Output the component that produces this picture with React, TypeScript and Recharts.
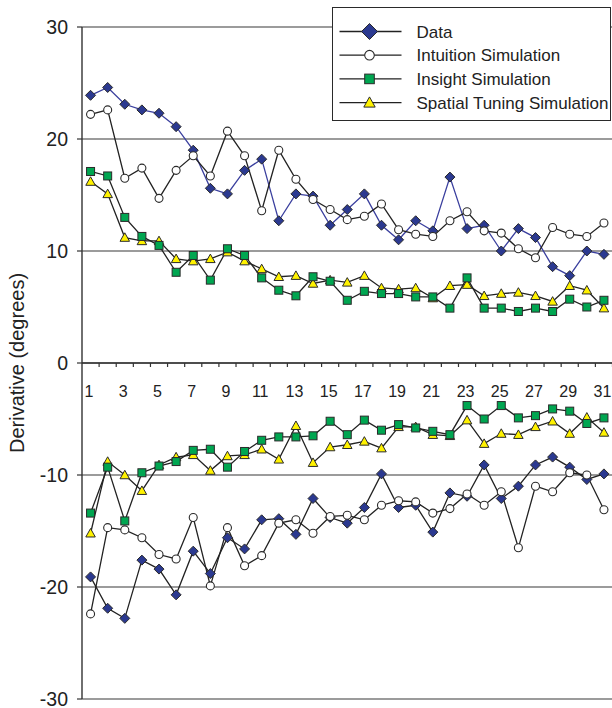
import { CartesianGrid, Legend, Line, LineChart, ReferenceLine, XAxis, YAxis } from "recharts";

// Derivative per session: each model has a positive (upper) and a negative (lower) branch.

const sessions = [1, 2, 3, 4, 5, 6, 7, 8, 9, 10, 11, 12, 13, 14, 15, 16, 17, 18, 19, 20, 21, 22, 23, 24, 25, 26, 27, 28, 29, 30, 31];
const xTickLabels = [1, 3, 5, 7, 9, 11, 13, 15, 17, 19, 21, 23, 25, 27, 29, 31];
const yTicks = [-30, -20, -10, 0, 10, 20, 30];
const seriesNames = ["Data", "Intuition Simulation", "Insight Simulation", "Spatial Tuning Simulation"];

const dataTop = [23.9, 24.6, 23.1, 22.6, 22.3, 21.1, 19.0, 15.6, 15.1, 17.2, 18.2, 12.7, 15.1, 14.9, 12.3, 13.7, 15.1, 12.3, 11.0, 12.7, 11.8, 16.6, 12.0, 12.3, 10.0, 12.0, 11.2, 8.6, 7.8, 10.0, 9.7];
const dataBottom = [-19.1, -21.9, -22.8, -17.6, -18.4, -20.7, -16.8, -18.8, -15.6, -16.6, -14.0, -13.9, -15.3, -12.1, -13.8, -14.3, -12.9, -9.9, -12.9, -12.7, -15.1, -11.6, -11.9, -9.1, -12.1, -11.0, -9.1, -8.4, -9.3, -10.4, -9.9];
const intuitionTop = [22.2, 22.6, 16.5, 17.4, 14.7, 17.2, 18.5, 16.7, 20.7, 18.5, 13.6, 19.0, 16.4, 14.6, 13.7, 12.8, 13.1, 14.2, 11.9, 11.5, 11.3, 12.7, 13.5, 11.8, 11.6, 10.2, 9.4, 12.1, 11.5, 11.3, 12.5];
const intuitionBottom = [-22.4, -14.7, -14.9, -15.6, -17.1, -17.5, -13.8, -19.9, -14.7, -18.1, -17.2, -14.3, -14.0, -15.2, -13.7, -13.6, -14.0, -12.7, -12.3, -12.4, -13.4, -13.0, -11.7, -12.7, -11.5, -16.5, -11.0, -11.5, -9.8, -10.0, -13.1];
const insightTop = [17.1, 16.7, 13.0, 11.3, 10.5, 8.1, 9.6, 7.4, 10.2, 9.6, 7.6, 6.5, 6.0, 7.7, 7.3, 5.6, 6.4, 6.2, 6.2, 5.9, 5.9, 4.9, 7.6, 4.9, 4.9, 4.6, 4.9, 4.6, 5.7, 5.0, 5.6];
const insightBottom = [-13.4, -9.3, -14.1, -9.8, -9.2, -8.8, -7.8, -7.7, -9.3, -7.9, -6.9, -6.6, -6.6, -6.5, -5.2, -6.4, -5.1, -6.0, -5.5, -5.8, -6.1, -6.4, -3.8, -5.0, -3.8, -4.9, -4.7, -4.1, -4.3, -5.4, -4.9];
const spatialTop = [16.2, 15.1, 11.2, 10.9, 10.9, 9.3, 9.1, 9.3, 9.9, 9.1, 8.4, 7.7, 7.8, 7.1, 7.4, 7.2, 7.8, 6.7, 6.6, 6.7, 5.8, 6.9, 7.0, 6.0, 6.2, 6.3, 6.0, 5.5, 6.9, 6.5, 4.9];
const spatialBottom = [-15.2, -8.8, -10.0, -11.4, -9.1, -8.4, -8.2, -9.6, -8.3, -8.2, -7.7, -8.6, -5.6, -8.9, -7.5, -7.3, -7.0, -7.6, -5.7, -5.7, -6.4, -6.5, -5.1, -7.2, -6.3, -6.4, -5.7, -5.2, -6.3, -4.85, -6.2];

const rows = sessions.map((s, i) => ({
  x: s,
  dataTop: dataTop[i],
  dataBottom: dataBottom[i],
  intuitionTop: intuitionTop[i],
  intuitionBottom: intuitionBottom[i],
  insightTop: insightTop[i],
  insightBottom: insightBottom[i],
  spatialTop: spatialTop[i],
  spatialBottom: spatialBottom[i],
}));

const FONT = "Arial, 'Liberation Sans', Helvetica, sans-serif";
const INK = "#222";
const EDGE = "#2a2a2a";
const NAVY = "#2b3990";
const GREEN = "#00a651";
const YELLOW = "#fff200";

type Marker = "diamond" | "circle" | "square" | "triangle";
const markerFill: Record<Marker, string> = { diamond: NAVY, circle: "#fff", square: GREEN, triangle: YELLOW };

function MarkerShape({ kind, cx, cy, s }: { kind: Marker; cx: number; cy: number; s: number }) {
  const fill = markerFill[kind];
  if (kind === "diamond")
    return <polygon points={`${cx},${cy - s} ${cx + s},${cy} ${cx},${cy + s} ${cx - s},${cy}`} fill={fill} stroke={EDGE} strokeWidth={1} />;
  if (kind === "circle") return <circle cx={cx} cy={cy} r={s * 0.8} fill={fill} stroke={EDGE} strokeWidth={1.1} />;
  if (kind === "square")
    return <rect x={cx - s * 0.8} y={cy - s * 0.8} width={s * 1.6} height={s * 1.6} fill={fill} stroke={EDGE} strokeWidth={1} />;
  return (
    <polygon
      points={`${cx},${cy - s * 0.95} ${cx + s * 0.95},${cy + s * 0.75} ${cx - s * 0.95},${cy + s * 0.75}`}
      fill={fill}
      stroke={EDGE}
      strokeWidth={1}
    />
  );
}

const dotFor = (kind: Marker) => (p: any) =>
  p.cx == null || p.cy == null ? <g key={`${kind}-${p.index}`} /> : <MarkerShape key={`${kind}-${p.index}`} kind={kind} cx={p.cx} cy={p.cy} s={5} />;

// the horizontal axis sits at y = 0, in the middle of the plot
function ZeroAxis(props: any) {
  const { x1, x2, y1 } = props;
  const band = (x2 - x1) / sessions.length;
  return (
    <g>
      <line x1={x1} x2={x2} y1={y1} y2={y1} stroke="#333" strokeWidth={1.4} />
      {sessions.map((s) => (
        <line key={s} x1={x1 + s * band} x2={x1 + s * band} y1={y1} y2={y1 + 4} stroke="#333" strokeWidth={1.2} />
      ))}
      {xTickLabels.map((v) => (
        <text key={v} x={x1 + (v - 0.5) * band - 1.5} y={y1 + 33.5} textAnchor="middle" fontSize={16} fontFamily={FONT} fill={INK}>
          {v}
        </text>
      ))}
    </g>
  );
}

const legendMarkers: Marker[] = ["diamond", "circle", "square", "triangle"];
const legendSizes = [8, 6, 6, 6];

function LegendBox() {
  return (
    <div style={{ width: 279, height: 114, boxSizing: "border-box", border: `1.5px solid ${EDGE}`, background: "#fff" }}>
      <svg width={276} height={111}>
        {seriesNames.map((name, i) => {
          const cy = 23.5 + i * 23.7;
          return (
            <g key={name}>
              <line x1={6.5} x2={68.5} y1={cy} y2={cy} stroke={INK} strokeWidth={1.3} />
              <MarkerShape kind={legendMarkers[i]} cx={36.5} cy={cy} s={legendSizes[i]} />
              <text x={83.5} y={cy + 6} fontSize={17} fontFamily={FONT} fill={INK}>
                {name}
              </text>
            </g>
          );
        })}
      </svg>
    </div>
  );
}

function YLabel(props: any) {
  const vb = props.viewBox;
  const x = vb.x + 24;
  const y = vb.y + vb.height / 2;
  return (
    <text x={x} y={y} transform={`rotate(-90, ${x}, ${y})`} textAnchor="middle" fontSize={20} fontFamily={FONT} fill={INK}>
      Derivative (degrees)
    </text>
  );
}

export default function App() {
  return (
    <div style={{ position: "absolute", left: 0, top: 0, width: 612, height: 708, overflow: "hidden", background: "#fff" }}>
      <LineChart width={620} height={708} data={rows} margin={{ top: 27, right: 7.5, bottom: 9, left: 0 }}>
        <CartesianGrid horizontal vertical={false} stroke="#7a7a7a" strokeWidth={1.3} />
        <XAxis dataKey="x" type="number" domain={[0.5, 31.5]} hide />
        <YAxis
          domain={[-30, 30]}
          ticks={yTicks}
          interval={0}
          width={82}
          tickSize={5}
          tickMargin={9}
          axisLine={{ stroke: "#333", strokeWidth: 1.4 }}
          tickLine={{ stroke: "#333", strokeWidth: 1.2 }}
          tick={{ fontSize: 19.5, fill: INK, fontFamily: FONT }}
          label={{ content: YLabel }}
        />
        <ReferenceLine y={0} shape={ZeroAxis} />
        <Line dataKey="dataTop" stroke="#3a3f9e" strokeWidth={1.3} dot={dotFor("diamond")} activeDot={false} isAnimationActive={false} />
        <Line dataKey="dataBottom" stroke={INK} strokeWidth={1.3} dot={dotFor("diamond")} activeDot={false} isAnimationActive={false} />
        <Line dataKey="intuitionTop" stroke={INK} strokeWidth={1.3} dot={dotFor("circle")} activeDot={false} isAnimationActive={false} />
        <Line dataKey="intuitionBottom" stroke={INK} strokeWidth={1.3} dot={dotFor("circle")} activeDot={false} isAnimationActive={false} />
        <Line dataKey="spatialTop" stroke={INK} strokeWidth={1.3} dot={dotFor("triangle")} activeDot={false} isAnimationActive={false} />
        <Line dataKey="spatialBottom" stroke={INK} strokeWidth={1.3} dot={dotFor("triangle")} activeDot={false} isAnimationActive={false} />
        <Line dataKey="insightTop" stroke={INK} strokeWidth={1.3} dot={dotFor("square")} activeDot={false} isAnimationActive={false} />
        <Line dataKey="insightBottom" stroke={INK} strokeWidth={1.3} dot={dotFor("square")} activeDot={false} isAnimationActive={false} />
        <Legend
          layout="horizontal"
          verticalAlign="middle"
          align="center"
          content={() => <LegendBox />}
          wrapperStyle={{ top: 7, left: 332, width: 279, height: 114 }}
        />
      </LineChart>
    </div>
  );
}
